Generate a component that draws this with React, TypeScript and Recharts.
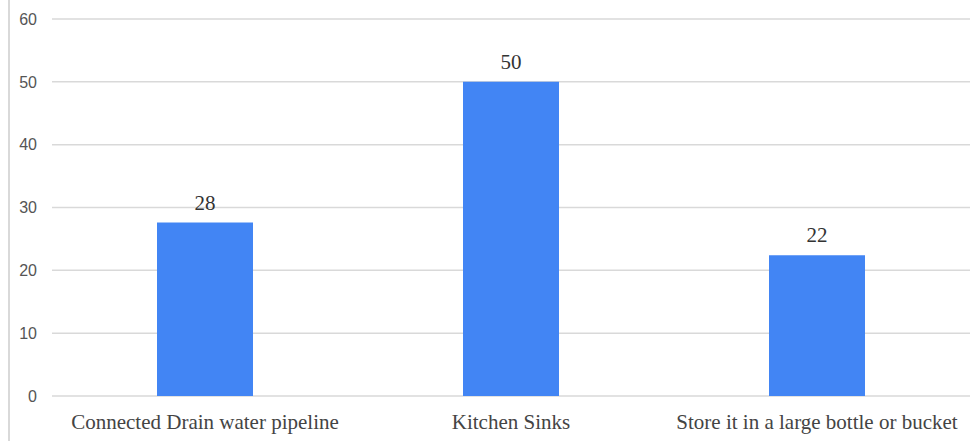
import React from "react";
import {
  BarChart,
  Bar,
  XAxis,
  YAxis,
  CartesianGrid,
  LabelList,
} from "recharts";

const categories = [
  "Connected Drain water pipeline",
  "Kitchen Sinks",
  "Store it in a large bottle or bucket",
];
const values = [27.6, 50, 22.4];
const barLabels = ["28", "50", "22"];
const yTicks = [0, 10, 20, 30, 40, 50, 60];

const data = categories.map((name, i) => ({
  name,
  value: values[i],
  label: barLabels[i],
}));

export default function App() {
  return (
    <div
      style={{
        position: "fixed",
        left: 0,
        top: 0,
        width: 979,
        height: 441,
        background: "#fff",
      }}
    >
      <div
        style={{
          position: "absolute",
          left: 8,
          top: 0,
          width: 2,
          height: 441,
          background: "#d9d9d9",
        }}
      />
      <BarChart
        width={979}
        height={441}
        data={data}
        margin={{ top: 19, right: 9, bottom: 0, left: 0 }}
        barSize={96}
      >
        <CartesianGrid
          vertical={false}
          stroke="#d9d9d9"
          strokeWidth={1.5}
        />
        <YAxis
          width={52}
          domain={[0, 60]}
          ticks={yTicks}
          axisLine={false}
          tickLine={false}
          tickSize={0}
          tickMargin={15}
          tick={{
            fill: "#555",
            fontSize: 16,
            fontFamily: "Liberation Sans, Arial, sans-serif",
          }}
        />
        <XAxis
          dataKey="name"
          height={45}
          axisLine={false}
          tickLine={false}
          tickSize={0}
          tickMargin={18}
          interval={0}
          tick={{
            fill: "#444",
            fontSize: 21,
            fontFamily: "Liberation Serif, Times New Roman, serif",
          }}
        />
        <Bar dataKey="value" fill="#4285f4" isAnimationActive={false}>
          <LabelList
            dataKey="label"
            position="top"
            offset={13}
            style={{
              fill: "#333",
              fontSize: 21,
              fontFamily: "Liberation Serif, Times New Roman, serif",
            }}
          />
        </Bar>
      </BarChart>
    </div>
  );
}
